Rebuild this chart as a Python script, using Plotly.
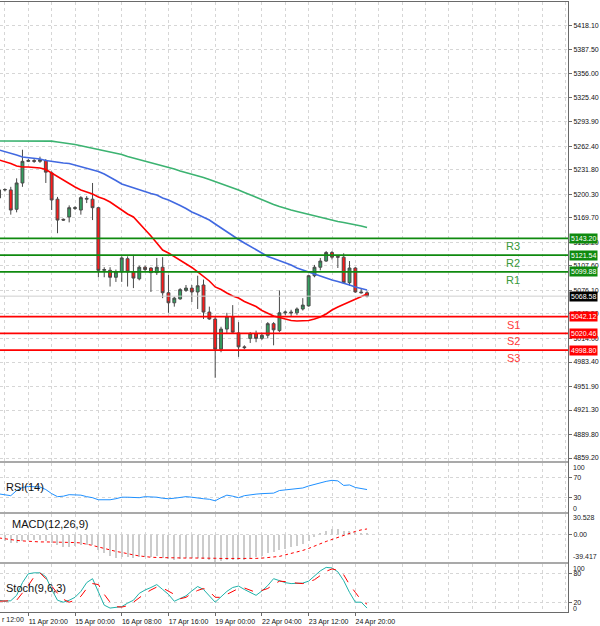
import plotly.graph_objects as go
from plotly.subplots import make_subplots

# US500 H4 candles, oldest -> newest
opens = [5195.6, 5206.0, 5206.0, 5181.0, 5215.0, 5243.0, 5244.0, 5243.0, 5244.0, 5228.0,
         5194.0, 5168.0, 5171.0, 5182.0, 5180.0, 5194.0, 5194.0, 5183.0, 5102.0, 5102.0,
         5093.0, 5100.0, 5117.0, 5100.0, 5091.0, 5106.0, 5105.0, 5099.0, 5106.0, 5073.0,
         5060.0, 5065.0, 5076.0, 5079.0, 5074.0, 5083.0, 5048.0, 5039.0, 5000.0, 5026.0,
         5042.0, 5021.0, 5003.0, 5014.0, 5020.0, 5014.0, 5018.0, 5033.0, 5024.0, 5047.0,
         5048.0, 5047.0, 5052.0, 5056.0, 5095.0, 5106.0, 5114.0, 5125.0, 5120.0, 5119.0,
         5086.0, 5105.0, 5074.0, 5073.0]
highs = [5210.0, 5208.0, 5210.0, 5221.0, 5258.0, 5246.0, 5247.0, 5249.0, 5246.0, 5230.0,
         5197.0, 5169.0, 5186.0, 5185.0, 5198.0, 5198.0, 5215.0, 5184.0, 5106.0, 5106.0,
         5103.0, 5120.0, 5120.0, 5122.0, 5108.0, 5108.0, 5106.0, 5118.0, 5119.0, 5096.0,
         5068.0, 5079.0, 5083.0, 5083.0, 5095.0, 5090.0, 5055.0, 5042.0, 5029.0, 5047.0,
         5057.0, 5035.0, 5005.0, 5022.0, 5024.0, 5021.0, 5035.0, 5035.0, 5076.0, 5050.0,
         5051.0, 5054.0, 5066.0, 5096.0, 5109.0, 5118.0, 5127.0, 5127.0, 5121.0, 5124.0,
         5114.0, 5106.0, 5079.0, 5075.0]
lows = [5190.0, 5204.0, 5174.0, 5177.0, 5210.0, 5242.0, 5241.0, 5241.0, 5215.0, 5180.0,
        5150.0, 5166.0, 5164.0, 5180.0, 5174.0, 5189.0, 5167.0, 5093.0, 5093.0, 5081.0,
        5087.0, 5087.0, 5081.0, 5079.0, 5089.0, 5100.0, 5074.0, 5096.0, 5066.0, 5047.0,
        5055.0, 5064.0, 5074.0, 5061.0, 5052.0, 5039.0, 5038.0, 4963.0, 4996.0, 5021.0,
        5021.0, 4990.0, 5000.0, 5008.0, 5009.0, 5012.0, 5014.0, 5005.0, 5022.0, 5044.0,
        5043.0, 5044.0, 5050.0, 5055.0, 5093.0, 5102.0, 5113.0, 5116.0, 5105.0, 5085.0,
        5082.0, 5073.0, 5072.0, 5067.0]
closes = [5206.0, 5206.5, 5180.0, 5215.0, 5243.0, 5244.0, 5243.0, 5245.0, 5229.0, 5193.0,
          5167.0, 5167.0, 5183.0, 5183.0, 5196.0, 5195.0, 5183.0, 5102.0, 5103.0, 5093.0,
          5100.0, 5118.0, 5100.0, 5092.0, 5106.0, 5103.0, 5099.0, 5106.0, 5073.0, 5060.0,
          5066.0, 5077.0, 5079.0, 5074.0, 5082.0, 5048.0, 5039.0, 5000.0, 5026.0, 5042.0,
          5022.0, 5003.0, 5002.0, 5020.0, 5014.0, 5018.0, 5033.0, 5025.0, 5047.0, 5048.0,
          5047.0, 5052.0, 5057.0, 5095.0, 5106.0, 5114.0, 5125.0, 5119.0, 5119.0, 5086.0,
          5105.0, 5074.0, 5073.0, 5068.58]

ma_fast = [5244.7, 5242.8, 5240.2, 5237.0, 5235.7, 5235.7, 5235.0, 5234.4, 5232.5, 5227.9,
           5222.8, 5218.9, 5214.3, 5209.8, 5206.0, 5203.4, 5200.8, 5196.9, 5194.3, 5190.4,
           5185.3, 5180.7, 5174.9, 5171.0, 5163.2, 5155.4, 5146.4, 5137.4, 5128.3, 5124.4,
           5119.9, 5115.4, 5110.2, 5105.7, 5099.9, 5094.1, 5088.2, 5080.5, 5077.2, 5072.7,
           5068.8, 5066.2, 5061.6, 5058.4, 5055.2, 5050.0, 5046.2, 5042.9, 5041.0, 5039.0,
           5037.1, 5036.5, 5036.5, 5037.1, 5039.0, 5041.6, 5045.5, 5050.7, 5054.5, 5057.8,
           5061.0, 5064.2, 5068.1, 5071.4]
ma_mid = [5257.7, 5255.7, 5253.8, 5251.2, 5248.6, 5248.0, 5247.3, 5246.0, 5244.1, 5242.8,
          5241.5, 5240.9, 5240.2, 5238.3, 5236.3, 5234.4, 5232.5, 5229.9, 5226.6, 5222.8,
          5218.2, 5213.7, 5211.1, 5208.5, 5205.9, 5203.4, 5201.4, 5199.5, 5195.6, 5193.0,
          5189.8, 5185.9, 5182.0, 5177.5, 5174.2, 5170.4, 5167.1, 5161.9, 5156.8, 5151.6,
          5146.4, 5141.9, 5137.4, 5132.8, 5129.0, 5124.4, 5119.9, 5117.3, 5114.7, 5112.1,
          5108.9, 5105.0, 5102.4, 5099.9, 5097.3, 5094.1, 5091.5, 5089.5, 5087.6, 5085.6,
          5083.0, 5080.5, 5078.5, 5076.6]
ma_slow = [5269.3, 5269.3, 5269.3, 5269.3, 5269.3, 5269.3, 5269.3, 5269.3, 5269.3, 5269.1,
           5268.0, 5267.1, 5266.1, 5264.8, 5263.2, 5261.6, 5259.6, 5257.9, 5256.6, 5255.3,
           5253.8, 5251.8, 5249.2, 5247.3, 5245.3, 5243.4, 5241.7, 5239.6, 5237.0, 5235.3,
           5233.1, 5230.5, 5228.6, 5226.6, 5224.7, 5222.1, 5219.5, 5216.9, 5214.3, 5211.7,
           5208.5, 5205.9, 5202.7, 5199.5, 5196.2, 5193.0, 5189.8, 5187.2, 5184.6, 5182.0,
           5180.1, 5178.1, 5176.2, 5174.2, 5172.3, 5170.4, 5169.1, 5167.1, 5165.2, 5163.9,
           5162.6, 5160.7, 5159.4, 5157.4]

rsi = [36.9, 34.4, 33.3, 43.8, 50.0, 52.1, 51.0, 51.0, 45.8, 37.5,
       31.3, 32.3, 35.4, 34.4, 34.4, 31.3, 29.2, 25.0, 25.0, 25.0,
       27.1, 30.2, 30.2, 30.2, 29.2, 31.3, 31.3, 30.2, 28.1, 27.1,
       28.1, 29.2, 31.3, 30.2, 28.1, 27.1, 26.0, 22.9, 29.2, 34.4,
       32.3, 29.2, 33.3, 35.4, 36.5, 37.5, 37.5, 38.5, 43.8, 44.8,
       45.8, 46.9, 49.0, 53.1, 56.3, 60.4, 62.5, 64.6, 63.5, 54.2,
       55.2, 50.0, 47.9, 45.8]

macd_main = [-8, -9, -11, -11, -9, -8, -8, -8, -9, -12,
             -15, -17, -17, -16, -15, -14, -15, -22, -27, -31,
             -33, -32, -32, -33, -32, -32, -32, -31, -33, -35,
             -36, -35, -34, -34, -33, -35, -37, -39, -38, -36,
             -36, -37, -37, -33, -32, -30, -27, -25, -22, -20,
             -18, -16, -13, -9, -3, 2, 6, 8, 8, 6,
             6, 4, 3, 2]
macd_signal = [-4.4, -5.8, -7.3, -8.0, -8.7, -9.5, -10.2, -10.2, -10.2, -10.2,
               -10.2, -10.2, -10.6, -11.1, -11.7, -13.1, -15.3, -17.5, -19.7, -22.6,
               -24.0, -25.5, -27.7, -29.1, -30.6, -32.1, -32.5, -32.9, -33.2, -33.4,
               -33.6, -33.7, -33.7, -33.6, -33.5, -33.5, -33.7, -34.0, -34.3, -34.4,
               -34.5, -34.6, -34.6, -34.5, -34.2, -33.8, -33.0, -32.1, -31.3, -29.1,
               -27.0, -25.5, -22.6, -19.7, -16.0, -13.1, -9.5, -6.6, -3.6, -0.7,
               2.9, 5.1, 7.3, 8.7]

stoch_main = [24.5, 22.4, 23.5, 34.7, 61.2, 79.6, 81.6, 81.6, 73.5, 46.9,
              24.5, 20.4, 24.5, 30.6, 42.9, 61.2, 69.4, 40.8, 14.3, 8.2,
              9.2, 11.2, 18.4, 24.5, 38.8, 45.9, 51.0, 57.1, 46.9, 36.7,
              22.4, 28.6, 33.7, 43.9, 53.1, 46.9, 32.7, 20.4, 31.6, 42.9,
              51.0, 54.1, 46.9, 40.8, 34.7, 43.9, 55.1, 69.4, 65.3, 61.2,
              59.2, 59.2, 60.2, 64.3, 75.5, 85.7, 92.9, 91.8, 83.7, 65.3,
              40.8, 20.4, 20.4, 8.2]
stoch_signal = [22.4, 22.4, 23.5, 24.5, 38.8, 55.1, 73.5, 81.6, 69.4, 53.1,
                38.8, 26.5, 20.4, 24.5, 32.7, 49.0, 59.2, 57.1, 36.7, 20.4,
                11.2, 10.2, 13.3, 20.4, 30.6, 38.8, 45.9, 52.0, 50.0, 42.9,
                36.7, 27.6, 30.6, 38.8, 44.9, 49.0, 42.9, 30.6, 30.6, 36.7,
                42.9, 49.0, 50.0, 44.9, 40.8, 44.9, 49.0, 57.1, 64.3, 63.3,
                61.2, 60.2, 59.2, 62.2, 67.3, 76.5, 84.7, 89.8, 86.7, 77.6,
                57.1, 40.8, 24.5, 16.3]

price_ticks = [5418.10, 5387.50, 5356.00, 5325.40, 5293.90, 5262.40, 5231.80, 5200.30,
               5169.70, 5138.20, 5107.60, 5076.10, 5045.50, 5014.00, 4983.40, 4951.90,
               4921.30, 4889.80, 4859.20]
time_ticks = [5, 13, 21, 29, 37, 45, 53, 61]
time_labels = ["11 Apr 20:00", "15 Apr 00:00", "16 Apr 08:00", "17 Apr 16:00",
               "19 Apr 00:00", "22 Apr 04:00", "23 Apr 12:00", "24 Apr 20:00"]

level_names = ["R3", "R2", "R1", "S1", "S2", "S3"]
level_values = [5143.20, 5121.54, 5099.88, 5042.12, 5020.46, 4998.80]
last_price = 5068.58

bars = list(range(len(closes)))

GRID = '#d6d6d6'
AXIS = '#6a6a6a'
FONT = 'Arial, Liberation Sans, sans-serif'
R_LINE, R_TEXT = '#0f8a0f', '#3a9a3a'
S_LINE, S_TEXT = '#ff0000', '#ff3b3b'

fig = make_subplots(rows=4, cols=1, shared_xaxes=True, vertical_spacing=0)

# price panel
fig.add_trace(go.Candlestick(
    x=bars, open=opens, high=highs, low=lows, close=closes,
    increasing=dict(fillcolor='#34a060', line=dict(color='#4a4a4a', width=1)),
    decreasing=dict(fillcolor='#ff1a1a', line=dict(color='#4a4a4a', width=1)),
    showlegend=False, hoverinfo='skip'
), row=1, col=1)

for vals, color in [(ma_slow, '#3cb371'), (ma_mid, '#4169e1'), (ma_fast, '#ff0000')]:
    fig.add_trace(go.Scatter(x=bars, y=vals, mode='lines',
                             line=dict(color=color, width=1.6),
                             showlegend=False, hoverinfo='skip'), row=1, col=1)

# RSI
fig.add_trace(go.Scatter(x=bars, y=rsi, mode='lines',
                         line=dict(color='#1e90ff', width=1),
                         showlegend=False, hoverinfo='skip'), row=2, col=1)

# MACD
fig.add_trace(go.Bar(x=bars, y=macd_main, width=0.2, marker_color='#cccccc',
                     marker_line_width=0, showlegend=False, hoverinfo='skip'), row=3, col=1)
fig.add_trace(go.Scatter(x=bars, y=macd_signal, mode='lines',
                         line=dict(color='#ff0000', width=1, dash='dot'),
                         showlegend=False, hoverinfo='skip'), row=3, col=1)

# Stochastic
fig.add_trace(go.Scatter(x=bars, y=stoch_main, mode='lines',
                         line=dict(color='#20b2aa', width=1),
                         showlegend=False, hoverinfo='skip'), row=4, col=1)
fig.add_trace(go.Scatter(x=bars, y=stoch_signal, mode='lines',
                         line=dict(color='#ff0000', width=1, dash='dash'),
                         showlegend=False, hoverinfo='skip'), row=4, col=1)

shapes = []
annotations = []

# last price line
shapes.append(dict(type='line', xref='x domain', yref='y', x0=0, x1=1,
                   y0=last_price, y1=last_price, line=dict(color='#cfcfcf', width=1)))

for name, val in zip(level_names, level_values):
    is_r = name.startswith('R')
    lc = R_LINE if is_r else S_LINE
    shapes.append(dict(type='line', xref='x domain', yref='y', x0=0, x1=1,
                       y0=val, y1=val, line=dict(color=lc, width=1.8)))
    annotations.append(dict(xref='paper', yref='y', x=0.919, y=val, yshift=-8,
                            text=name, showarrow=False,
                            font=dict(family=FONT, size=11, color=R_TEXT if is_r else S_TEXT)))
    annotations.append(dict(xref='paper', yref='y', x=1, y=val, xanchor='left', xshift=1,
                            text=f"{val:.2f}", showarrow=False, bgcolor=lc, borderpad=1,
                            font=dict(family=FONT, size=7, color='white')))

annotations.append(dict(xref='paper', yref='y', x=1, y=last_price, xanchor='left', xshift=1,
                        text=f"{last_price:.2f}", showarrow=False, bgcolor='#000000',
                        borderpad=1, font=dict(family=FONT, size=7, color='white')))

# panel titles
for yref, yfrac, label, xpos in [('y2 domain', 0.5, 'RSI(14)', 0.007),
                                 ('y3 domain', 0.8, 'MACD(12,26,9)', 0.017),
                                 ('y4 domain', 0.5, 'Stoch(9,6,3)', 0.007)]:
    annotations.append(dict(xref='paper', yref=yref, x=xpos, y=yfrac, xanchor='left',
                            yanchor='middle', text=label, showarrow=False,
                            font=dict(family=FONT, size=11, color='#111111')))

# edge labels of the indicator scales
for yref, val, txt, shift in [('y2', 100, '100', -5), ('y2', 0, '0', 4),
                              ('y3', 30.528, '30.528', -4), ('y3', -39.417, '-39.417', 5),
                              ('y4', 100, '100', -5), ('y4', 0, '0', 4)]:
    annotations.append(dict(xref='paper', yref=yref, x=1, y=val, xanchor='left', xshift=3,
                            yshift=shift, text=txt, showarrow=False,
                            font=dict(family=FONT, size=7, color='#1a1a1a')))

# clipped first time label
annotations.append(dict(xref='paper', yref='paper', x=0, y=0, xanchor='left', yanchor='top',
                        yshift=-2, text='r 12:00', showarrow=False,
                        font=dict(family=FONT, size=7, color='#1a1a1a')))

# separators between panels
for y0, y1 in [(0.2443, 0.2475), (0.1607, 0.1639), (0.0787, 0.0820)]:
    shapes.append(dict(type='rect', xref='paper', yref='paper', x0=0, x1=1, y0=y0, y1=y1,
                       fillcolor='#a9a9a9', line=dict(width=0)))

fig.update_layout(
    width=600, height=626,
    margin=dict(l=0, r=32, t=2, b=14),
    template='none',
    plot_bgcolor='white', paper_bgcolor='white',
    showlegend=False, bargap=0,
    shapes=shapes, annotations=annotations,
    yaxis=dict(domain=[0.2475, 1.0], range=[4855.3, 5449.1],
               tickvals=price_ticks, ticktext=[f"{v:.2f}" for v in price_ticks]),
    yaxis2=dict(domain=[0.1639, 0.2443], range=[0, 100], tickvals=[30, 70]),
    yaxis3=dict(domain=[0.0820, 0.1607], range=[-39.417, 30.528],
                tickvals=[0], ticktext=['0.00']),
    yaxis4=dict(domain=[0.0, 0.0787], range=[0, 100], tickvals=[20, 80]),
)

fig.update_yaxes(side='right', showline=True, linecolor=AXIS, linewidth=1,
                 ticks='outside', ticklen=3, tickcolor=AXIS,
                 tickfont=dict(family=FONT, size=7, color='#111111'),
                 showgrid=True, gridcolor=GRID, griddash='3px,3px', gridwidth=1,
                 zeroline=False, automargin=False, fixedrange=True)

fig.update_xaxes(range=[0.154, 97.41], showline=True, mirror=True, linecolor=AXIS,
                 linewidth=1, tickvals=time_ticks, ticktext=time_labels,
                 ticks='outside', ticklen=3, tickcolor=AXIS,
                 tickfont=dict(family=FONT, size=7, color='#111111'),
                 ticklabelshift=20,
                 showgrid=True, gridcolor=GRID, griddash='3px,3px', gridwidth=1,
                 minor=dict(tick0=1, dtick=4, showgrid=True, gridcolor=GRID,
                            griddash='3px,3px', ticklen=0),
                 zeroline=False, automargin=False, rangeslider_visible=False,
                 fixedrange=True)

# page body margin would push the chart 8px down and right
fig.write_html("out.html", config={'displayModeBar': False},
               post_script="document.body.style.margin='0px';")
